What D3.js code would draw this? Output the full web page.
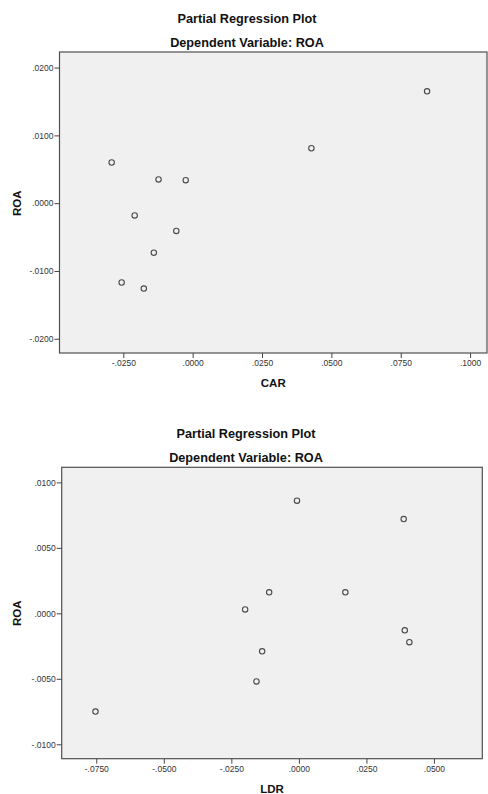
<!DOCTYPE html>
<html>
<head>
<meta charset="utf-8">
<script src="https://cdn.jsdelivr.net/npm/d3@7"></script>
<style>
  body { margin: 0; background: #fff; }
  svg { display: block; font-family: "Liberation Sans", Arial, sans-serif; }
  .title { font-size: 12.7px; font-weight: bold; fill: #111; }
  .axlabel { font-size: 11.5px; font-weight: bold; fill: #111; }
  .tick text { font-size: 8.5px; fill: #333; }
  .tick line { stroke: #444; }
  .domain { display: none; }
</style>
</head>
<body>
<svg id="chart" width="488" height="794"></svg>
<script>
// plot 1 : ROA vs CAR
var carX = [-0.0292, -0.0123, -0.0025, -0.0209, -0.0059, -0.0140, -0.0256, -0.0176, 0.0428, 0.0845];
var carY = [0.0060, 0.0035, 0.0034, -0.0018, -0.0041, -0.0073, -0.0117, -0.0126, 0.0081, 0.0165];
var carXTicks = [-0.025, 0, 0.025, 0.05, 0.075, 0.1];
var carXLabels = ["-.0250", ".0000", ".0250", ".0500", ".0750", ".1000"];
var carYTicks = [0.02, 0.01, 0, -0.01, -0.02];
var carYLabels = [".0200", ".0100", ".0000", "-.0100", "-.0200"];

// plot 2 : ROA vs LDR
var ldrX = [-0.0007, 0.0388, -0.0110, 0.0172, -0.0199, 0.0392, 0.0409, -0.0136, -0.0157, -0.0753];
var ldrY = [0.0086, 0.0072, 0.0016, 0.0016, 0.0003, -0.0013, -0.0022, -0.0029, -0.0052, -0.0075];
var ldrXTicks = [-0.075, -0.05, -0.025, 0, 0.025, 0.05];
var ldrXLabels = ["-.0750", "-.0500", "-.0250", ".0000", ".0250", ".0500"];
var ldrYTicks = [0.01, 0.005, 0, -0.005, -0.01];
var ldrYLabels = [".0100", ".0050", ".0000", "-.0050", "-.0100"];

var svg = d3.select("#chart");

function drawPlot(opt){
	var g = svg.append("g");
	var x = d3.scaleLinear().domain(opt.xdom).range([opt.left, opt.right]);
	var y = d3.scaleLinear().domain(opt.ydom).range([opt.bottom, opt.top]);

	g.append("text").attr("class", "title")
	.attr("x", opt.tx).attr("y", opt.top - 29.5)
	.attr("text-anchor", "middle")
	.text("Partial Regression Plot");
	g.append("text").attr("class", "title")
	.attr("x", opt.tx).attr("y", opt.top - 5.5)
	.attr("text-anchor", "middle")
	.text("Dependent Variable: ROA");

	// plot area
	g.append("rect")
	.attr("x", opt.left).attr("y", opt.top)
	.attr("width", opt.right - opt.left)
	.attr("height", opt.bottom - opt.top)
	.style("fill", "#f0f0f0")
	.style("stroke", "#505050")
	.style("stroke-width", 1.2);

	var xaxis = d3.axisBottom(x).tickValues(opt.xticks).tickSize(5).tickPadding(2)
		.tickFormat(function(d, i){ return opt.xlabels[i]; });
	var yaxis = d3.axisLeft(y).tickValues(opt.yticks).tickSize(5).tickPadding(1)
		.tickFormat(function(d, i){ return opt.ylabels[i]; });

	g.append("g").attr("transform", "translate(0," + opt.bottom + ")").call(xaxis);
	g.append("g").attr("transform", "translate(" + opt.left + ",0)").call(yaxis);

	g.append("g").selectAll("circle")
	.data(opt.xs)
	.enter()
	.append("circle")
	.attr("cx", function(d){ return x(d); })
	.attr("cy", function(d, i){ return y(opt.ys[i]); })
	.attr("r", 2.7)
	.style("fill", "none")
	.style("stroke", "#4a4a4a")
	.style("stroke-width", 1.1);

	// axis titles
	g.append("text").attr("class", "axlabel")
	.attr("x", (opt.left + opt.right) / 2)
	.attr("y", opt.bottom + 34)
	.attr("text-anchor", "middle")
	.text(opt.xname);
	g.append("text").attr("class", "axlabel")
	.attr("transform", "translate(21," + y(0) + ")rotate(-90)")
	.attr("text-anchor", "middle")
	.text("ROA");
}

drawPlot({left: 59.5, right: 487, top: 52, bottom: 353, tx: 247,
	xdom: [-0.048, 0.1061], ydom: [-0.0221, 0.0223],
	xticks: carXTicks, xlabels: carXLabels, yticks: carYTicks, ylabels: carYLabels,
	xs: carX, ys: carY, xname: "CAR"});

drawPlot({left: 61.7, right: 482.3, top: 467.3, bottom: 758.7, tx: 246,
	xdom: [-0.0878, 0.0679], ydom: [-0.0111, 0.01115],
	xticks: ldrXTicks, xlabels: ldrXLabels, yticks: ldrYTicks, ylabels: ldrYLabels,
	xs: ldrX, ys: ldrY, xname: "LDR"});
</script>
</body>
</html>
